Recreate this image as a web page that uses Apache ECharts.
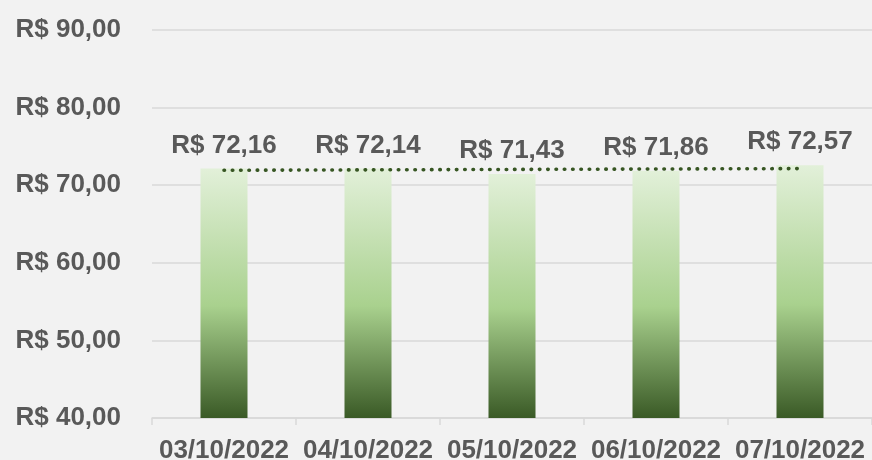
<!DOCTYPE html>
<html>
<head>
<meta charset="utf-8">
<script src="https://cdn.jsdelivr.net/npm/echarts@6/dist/echarts.min.js"></script>
<style>
  html, body { margin: 0; padding: 0; background: #f2f2f2; }
  #main { width: 872px; height: 460px; }
</style>
</head>
<body>
<div id="main"></div>
<script>
// dados do gráfico
var datas = ['03/10/2022', '04/10/2022', '05/10/2022', '06/10/2022', '07/10/2022'];
var precos = [72.16, 72.14, 71.43, 71.86, 72.57];

function brl(v) {
    return 'R$ ' + v.toFixed(2).replace('.', ',');
}

// linha de tendência linear (mínimos quadrados)
function tendencia(ys) {
    var n = ys.length, mx = (n - 1) / 2, my = 0;
    ys.forEach(function (y) { my += y / n; });
    var num = 0, den = 0;
    ys.forEach(function (y, i) { num += (i - mx) * (y - my); den += (i - mx) * (i - mx); });
    var b = num / den;
    return ys.map(function (y, i) { return my + b * (i - mx); });
}

var cinza = '#595959';
var fonte = 'Liberation Sans, Arial, sans-serif';

var myChart = echarts.init(document.getElementById('main'));

var option = {
    backgroundColor: '#f2f2f2',
    animation: false,
    grid: { left: 152, right: 0, top: 30, bottom: 42, containLabel: false, outerBoundsMode: 'none' },
    xAxis: {
        type: 'category',
        data: datas,
        axisLine: { lineStyle: { color: '#d9d9d9', width: 1.5 } },
        axisTick: { show: true, length: 7, lineStyle: { color: '#d9d9d9', width: 1.5 } },
        axisLabel: { color: cinza, fontSize: 26, fontWeight: 'bold', fontFamily: fonte, margin: 20, interval: 0 }
    },
    yAxis: {
        type: 'value',
        min: 40,
        max: 90,
        interval: 10,
        axisLine: { show: false },
        axisTick: { show: false },
        splitLine: { lineStyle: { color: '#d9d9d9', width: 1.5 } },
        axisLabel: {
            color: cinza, fontSize: 26, fontWeight: 'bold', fontFamily: fonte, margin: 31,
            formatter: function (v) { return brl(v); }
        }
    },
    series: [{
        name: 'Preço',
        type: 'bar',
        data: precos,
        barWidth: 47,
        itemStyle: {
            color: new echarts.graphic.LinearGradient(0, 0, 0, 1, [
                { offset: 0, color: '#e2f0d9' },
                { offset: 0.55, color: '#a9d18e' },
                { offset: 1, color: '#3a5a26' }
            ])
        },
        label: {
            show: true,
            position: 'top',
            distance: 10,
            color: cinza,
            fontSize: 26,
            fontWeight: 'bold',
            fontFamily: fonte,
            formatter: function (p) { return brl(p.value); }
        }
    }, {
        name: 'Tendência',
        type: 'line',
        data: tendencia(precos),
        symbol: 'none',
        z: 5,
        lineStyle: { color: '#375623', width: 3.6, type: [0.5, 7.8], cap: 'round' }
    }]
};

myChart.setOption(option);
</script>
</body>
</html>
